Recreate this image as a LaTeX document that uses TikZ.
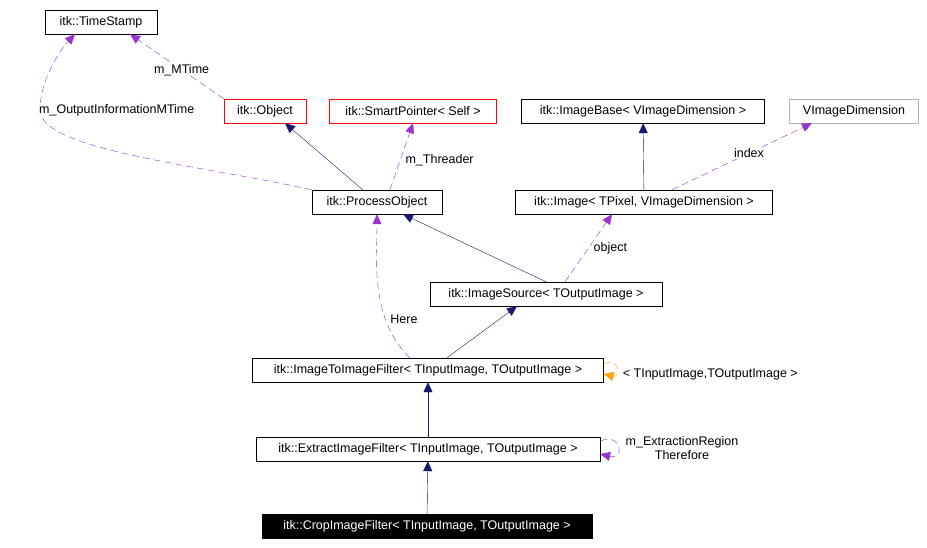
\documentclass[tikz,border=0pt]{standalone}
\usepackage{fontspec}
\setmainfont{Liberation Sans}
\usetikzlibrary{arrows.meta, positioning}
\definecolor{edgeblue}{HTML}{191970}
\definecolor{edgepurple}{HTML}{9A32CD}
\definecolor{edgeorange}{HTML}{FFA500}
\tikzset{
    cls/.style={rectangle, draw, inner sep=0pt, minimum height=24pt, font=\fontsize{12.5}{14}\selectfont},
    redcls/.style={cls, draw=red},
    graycls/.style={cls, draw=black!30},
    maincls/.style={cls, fill=black, text=white},
    inherit/.style={-{Triangle[length=10pt,width=9pt]}, edgeblue},
    usage/.style={-{Triangle[length=10pt,width=9pt]}, edgepurple, dash pattern=on 7pt off 4pt},
    tmpl/.style={-{Triangle[length=10pt,width=9pt]}, edgeorange, dash pattern=on 7pt off 4pt},
    lbl/.style={font=\fontsize{12.5}{14}\selectfont, text=black, fill=white, inner sep=1pt}
}
\begin{document}
\begin{tikzpicture}[x=1pt, y=-1pt]
    \useasboundingbox (0,0) rectangle (927,548);
    \node (stamp) [cls, minimum width=112pt] at (101,22) {itk::TimeStamp};
    \node (object) [redcls, minimum width=82pt] at (265,111) {itk::Object};
    \node (smart) [redcls, minimum width=167pt] at (413,111) {itk::SmartPointer< Self >};
    \node (base) [cls, minimum width=243pt] at (643,111) {itk::ImageBase< VImageDimension >};
    \node (dim) [graycls, minimum width=129pt] at (854,111) {VImageDimension};
    \node (process) [cls, minimum width=130pt] at (377,202) {itk::ProcessObject};
    \node (image) [cls, minimum width=257pt] at (644,202) {itk::Image< TPixel, VImageDimension >};
    \node (source) [cls, minimum width=232pt] at (546,294) {itk::ImageSource< TOutputImage >};
    \node (i2i) [cls, minimum width=351pt] at (428,370) {itk::ImageToImageFilter< TInputImage, TOutputImage >};
    \node (extract) [cls, minimum width=344pt] at (428,449) {itk::ExtractImageFilter< TInputImage, TOutputImage >};
    \node (crop) [maincls, minimum width=330pt] at (427,526) {itk::CropImageFilter< TInputImage, TOutputImage >};

    % inheritance
    \draw[inherit] (process) -- (object.south east -| 285,0);
    \draw[inherit] (image) -- (base);
    \draw[inherit] (source.north) -- (process.south east -| 403,0);
    \draw[inherit] (i2i.north east -| 447,0) -- (source.south -| 517,0);
    \draw[inherit] (extract) -- (i2i);
    \draw[inherit] (crop) -- (extract);

    % usage
    \draw[usage] (object.north west) -- node[lbl, pos=0.45] {m\_MTime} (stamp.south -| 130,0);
    \draw[usage] (process.north west) .. controls (200,165) and (40,150) .. (40,110)
        node[lbl, right=-2pt] {m\_OutputInformationMTime} .. controls (40,80) and (60,50) .. (stamp.south -| 75,0);
    \draw[usage] (process.north -| 390,0) -- node[lbl, right=4pt, pos=0.45] {m\_Threader} (smart.south);
    \draw[usage] (image.north -| 672,0) -- node[lbl, pos=0.55] {index} (dim.south -| 812,0);
    \draw[usage] (source.north -| 565,0) -- node[lbl, right=4pt] {object} (image.south -| 612,0);
    \draw[usage] (i2i.north -| 410,0) .. controls (370,320) and (377,260) .. node[lbl, pos=0.3, right=4pt] {Here} (process.south);
    \draw[tmpl] (i2i.east) ++(0,-6) .. controls (620,356) and (620,378) .. (i2i.east |- 0,374)
        node[lbl, right=18pt] {< TInputImage,TOutputImage >};
    \draw[usage] (extract.east) ++(0,-8) .. controls (622,432) and (625,460) .. (extract.east |- 0,454);
    \node (extractlbl) [font=\fontsize{12.5}{14}\selectfont, align=center, inner sep=0pt] at (682,448) {m\_ExtractionRegion\\Therefore};
\end{tikzpicture}
\end{document}
